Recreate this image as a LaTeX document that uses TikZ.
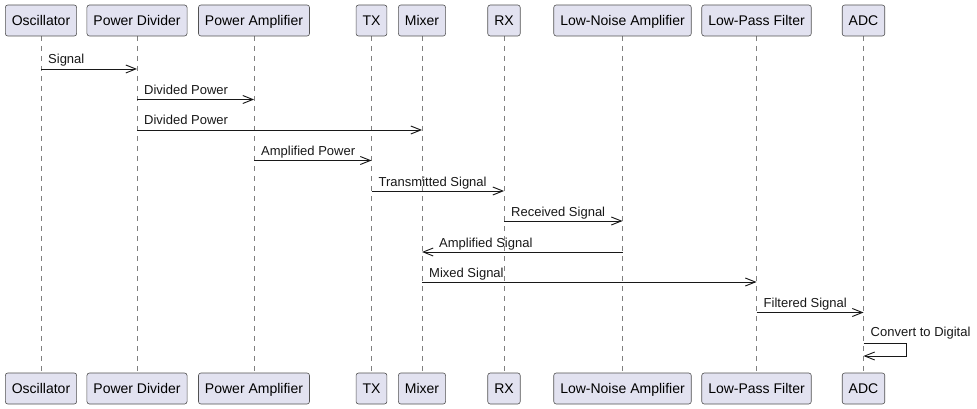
\documentclass[tikz,border=0pt]{standalone}
\usepackage{fontspec}
\setmainfont{Liberation Sans}
\usetikzlibrary{arrows.meta}
\definecolor{boxfill}{HTML}{E2E2F0}
\definecolor{ink}{HTML}{181818}
\begin{document}
\begin{tikzpicture}[x=1pt,y=-1pt,
 part/.style={draw=ink!75, line width=0.6pt, fill=boxfill, rounded corners=2.5pt, minimum height=31pt, inner xsep=6.5pt, inner ysep=0pt, text height=10.5pt, text depth=-4.5pt, font=\fontsize{14}{16}\selectfont, anchor=center},
 life/.style={draw=ink!55, line width=0.7pt, dash pattern=on 5pt off 5pt},
 msg/.style={draw=ink, line width=0.9pt, -{Straight Barb[length=10pt,width=8pt]}},
 lbl/.style={font=\fontsize{13}{15}\selectfont, inner sep=0pt, anchor=base west, text=ink}]
\useasboundingbox (0,0) rectangle (977,409);
\fill[white] (0,0) rectangle (977,409);
% lifelines first (behind boxes)
\foreach \x in {41,137,254,371.5,422,504,622.5,756.5,863.5}
  \draw[life] (\x,36) -- (\x,373);
% top participants
\node[part] (osc) at (41,20.5) {Oscillator};
\node[part] (pd)  at (137,20.5) {Power Divider};
\node[part] (pa)  at (254,20.5) {Power Amplifier};
\node[part] (tx)  at (371.5,20.5) {TX};
\node[part] (mix) at (422,20.5) {Mixer};
\node[part] (rx)  at (504,20.5) {RX};
\node[part] (lna) at (622.5,20.5) {Low-Noise Amplifier};
\node[part] (lpf) at (756.5,20.5) {Low-Pass Filter};
\node[part] (adc) at (863.5,20.5) {ADC};
% bottom participants
\node[part] (osc2) at (41,388.5) {Oscillator};
\node[part] (pd2)  at (137,388.5) {Power Divider};
\node[part] (pa2)  at (254,388.5) {Power Amplifier};
\node[part] (tx2)  at (371.5,388.5) {TX};
\node[part] (mix2) at (422,388.5) {Mixer};
\node[part] (rx2)  at (504,388.5) {RX};
\node[part] (lna2) at (622.5,388.5) {Low-Noise Amplifier};
\node[part] (lpf2) at (756.5,388.5) {Low-Pass Filter};
\node[part] (adc2) at (863.5,388.5) {ADC};
% messages
\draw[msg] (osc |- 0,69) -- (pd |- 0,69);
\node[lbl] (m1) at ([xshift=7pt]osc |- 0,64) {Signal};
\draw[msg] (pd |- 0,99.5) -- (pa |- 0,99.5);
\node[lbl] (m2) at ([xshift=7pt]pd |- 0,94.5) {Divided Power};
\draw[msg] (pd |- 0,130) -- (mix |- 0,130);
\node[lbl] (m3) at ([xshift=7pt]pd |- 0,125) {Divided Power};
\draw[msg] (pa |- 0,160.5) -- (tx |- 0,160.5);
\node[lbl] (m4) at ([xshift=7pt]pa |- 0,155.5) {Amplified Power};
\draw[msg] (tx |- 0,191) -- (rx |- 0,191);
\node[lbl] (m5) at ([xshift=7pt]tx |- 0,186) {Transmitted Signal};
\draw[msg] (rx |- 0,221) -- (lna |- 0,221);
\node[lbl] (m6) at ([xshift=7pt]rx |- 0,216) {Received Signal};
\draw[msg] (lna |- 0,252) -- (mix |- 0,252);
\node[lbl] (m7) at ([xshift=17pt]mix |- 0,247) {Amplified Signal};
\draw[msg] (mix |- 0,282) -- (lpf |- 0,282);
\node[lbl] (m8) at ([xshift=7pt]mix |- 0,277) {Mixed Signal};
\draw[msg] (lpf |- 0,312.5) -- (adc |- 0,312.5);
\node[lbl] (m9) at ([xshift=7pt]lpf |- 0,307.5) {Filtered Signal};
\draw[msg] (adc |- 0,343) -- ++(43,0) -- ++(0,13) -- (adc |- 0,356);
\node[lbl] (m10) at ([xshift=7pt]adc |- 0,336.5) {Convert to Digital};
\end{tikzpicture}
\end{document}
